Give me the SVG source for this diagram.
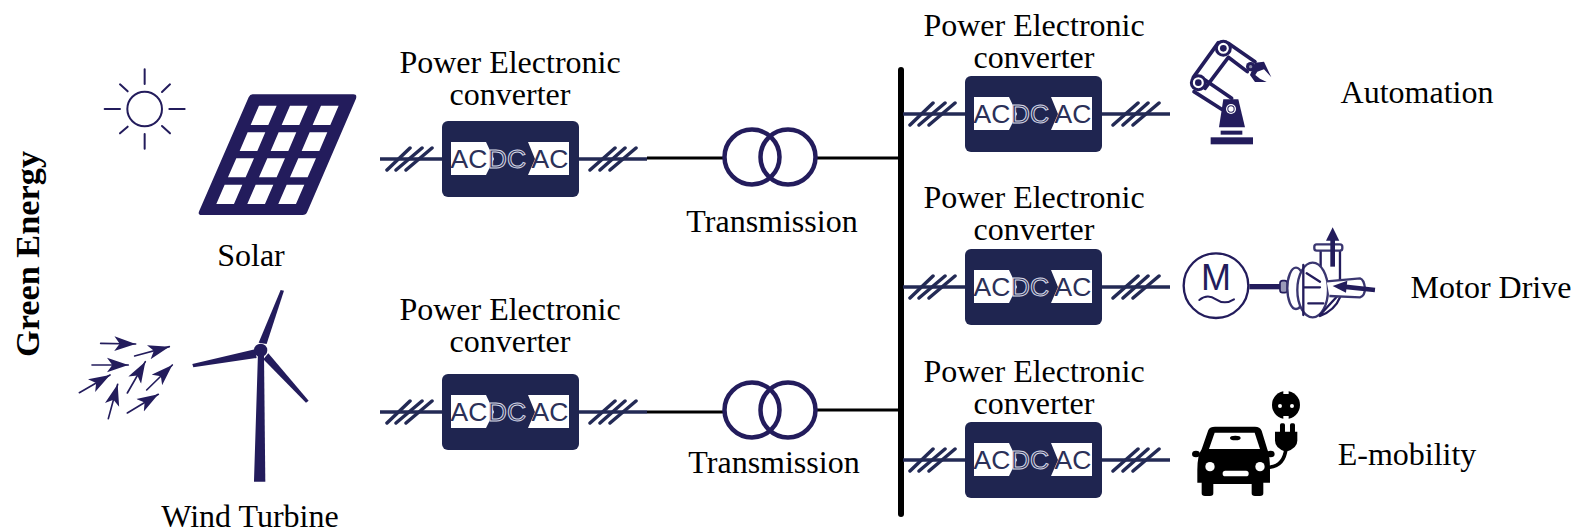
<svg xmlns="http://www.w3.org/2000/svg" width="1574" height="530" viewBox="0 0 1574 530">
<style>
.t{font-family:"Liberation Serif","Times New Roman",serif;font-size:32px;fill:#000;text-anchor:middle}
.b{font-weight:bold;font-size:34.3px}
.a{font-family:"Liberation Sans",Arial,sans-serif;font-size:26.5px;text-anchor:middle;fill:#2b3058}
.n{fill:#231c5c}
.l{stroke:#231c5c;fill:none;stroke-linecap:round}
.w{stroke:#000;fill:none}
</style>
<defs>
<marker id="ah" markerUnits="userSpaceOnUse" viewBox="0 -24 66 48" refX="64" refY="0" markerWidth="66" markerHeight="48" orient="auto"><path d="M0,-22L64,0L0,22L16,0Z" fill="#231c5c"/></marker>
<g id="conv">
<path d="M-62,38H205" stroke="#232a55" stroke-width="3.5" fill="none"/>
<path d="M-55,49L-32,27M-46,49L-20,27M-36,49L-10,27M148,49L173,27M158,49L183,27M168,49L194,27" stroke="#232a55" stroke-width="3.5" fill="none" stroke-linecap="round"/>
<rect width="137" height="76" rx="6" fill="#1f2550"/>
<rect x="9" y="21" width="118" height="33" fill="#fff"/>
<path d="M44,21H86L93,38L86,54H44L52,38Z" fill="#1f2550"/>
<text class="a" x="27" y="47">AC</text>
<text class="a" x="65" y="47" stroke="#d5d8e6" stroke-width="1" fill="#1f2550">DC</text>
<text class="a" x="108" y="47">AC</text>
</g>
<g id="tx">
<circle cx="0" cy="0" r="27.5" fill="none" stroke="#231c5c" stroke-width="4.5"/>
<circle cx="36" cy="0" r="27.5" fill="none" stroke="#231c5c" stroke-width="4.5"/>
</g>
</defs>
<g id="connectors">
<path class="w" stroke-width="3" d="M647,158H724M816,158H900M647,412H724M816,410H900"/>
<path d="M901,70V514" stroke="#000" stroke-width="6" stroke-linecap="round" fill="none"/>
</g>
<g id="sun" transform="translate(60,50) scale(.3333)">
<circle cx="254" cy="177" r="52" fill="none" stroke="#231c5c" stroke-width="6"/>
<path class="l" stroke-width="6" d="M254,58V102M254,252V296M134,177H180M328,177H374M180,103L203,124M330,103L306,126M180,250L203,230M330,250L306,228"/>
</g>
<g id="solar" transform="translate(60,50) scale(.3333)">
<path class="n" d="M578,133H880Q892,133 888,146L742,485Q738,495 728,495H425Q412,495 418,482L566,142Q570,133 578,133Z"/>
<path fill="#fff" d="M597,167h53l-25,58h-53zM690,167h53l-25,58h-53zM783,167h53l-25,58h-53zM563,247h53l-24,56h-53zM656,247h53l-24,56h-53zM749,247h53l-24,56h-53zM529,325h53l-25,57h-53zM622,325h53l-25,57h-53zM715,325h53l-25,57h-53zM494,404h53l-25,58h-53zM587,404h53l-25,58h-53zM680,404h53l-25,58h-53z"/>
</g>
<text id="label-solar" class="t" x="251" y="266">Solar</text>
<g id="wind" transform="translate(60,270) scale(.3333)">
<path class="n" d="M594,250H612L616,635H582Z"/>
<path class="n" d="M662,60L672,62L620,222L596,218Z"/>
<path class="n" d="M397,282L585,238L590,264L400,292Z"/>
<path class="n" d="M625,250L746,392L738,398L610,268Z"/>
<circle class="n" cx="602" cy="241" r="20"/>
<g class="l" stroke-width="5">
<path d="M122,220L227,222" marker-end="url(#ah)"/>
<path d="M224,258L328,230" marker-end="url(#ah)"/>
<path d="M96,285L205,285" marker-end="url(#ah)"/>
<path d="M58,368L150,315" marker-end="url(#ah)"/>
<path d="M202,369L256,275" marker-end="url(#ah)"/>
<path d="M260,360L337,285" marker-end="url(#ah)"/>
<path d="M145,446L173,343" marker-end="url(#ah)"/>
<path d="M202,429L295,373" marker-end="url(#ah)"/>
</g>
</g>
<text id="label-wind" class="t" x="250" y="527">Wind Turbine</text>
<text id="label-green" class="t b" transform="translate(39,254) rotate(-90)">Green Energy</text>
<g id="conv1"><use href="#conv" x="442" y="121"/><text class="t" x="510" y="73">Power Electronic</text><text class="t" x="510" y="105">converter</text></g>
<g id="conv2"><use href="#conv" x="442" y="374"/><text class="t" x="510" y="320">Power Electronic</text><text class="t" x="510" y="352">converter</text></g>
<g id="tx1"><use href="#tx" x="752" y="157"/><text class="t" x="772" y="232">Transmission</text></g>
<g id="tx2"><use href="#tx" x="752" y="410"/><text class="t" x="774" y="473">Transmission</text></g>
<g id="conv3"><use href="#conv" x="965" y="76"/><text class="t" x="1034" y="36">Power Electronic</text><text class="t" x="1034" y="68">converter</text></g>
<g id="conv4"><use href="#conv" x="965" y="249"/><text class="t" x="1034" y="208">Power Electronic</text><text class="t" x="1034" y="240">converter</text></g>
<g id="conv5"><use href="#conv" x="965" y="422"/><text class="t" x="1034" y="382">Power Electronic</text><text class="t" x="1034" y="414">converter</text></g>
<g id="robot" transform="translate(1160,20) scale(.3333)">
<path class="n" d="M190,238H235L255,322H177Z"/>
<rect class="n" x="182" y="332" width="65" height="12"/>
<rect class="n" x="152" y="352" width="127" height="21"/>
<circle cx="213" cy="267" r="15" fill="#fff"/><circle cx="213" cy="267" r="11" class="n"/><circle cx="213" cy="267" r="8" fill="#fff"/>
<path class="l" stroke-width="11" d="M100,172L175,68M135,205L205,112M205,70L285,125M205,112L262,155M135,180L215,235M102,215L185,268"/>
<circle cx="115" cy="188" r="21" fill="#fff" stroke="#231c5c" stroke-width="9"/><circle cx="115" cy="188" r="10" class="n"/>
<circle cx="190" cy="85" r="21" fill="#fff" stroke="#231c5c" stroke-width="9"/><circle cx="190" cy="85" r="10" class="n"/>
<circle cx="272" cy="140" r="14" class="n"/><circle cx="272" cy="140" r="5" fill="#8a8aa8"/>
<path class="n" d="M285,128L312,125L334,172L312,148L292,155L286,165L300,176L320,186L285,186L270,165Z"/>
</g>
<text id="label-automation" class="t" x="1417" y="103">Automation</text>
<g id="motor" transform="translate(1160,210) scale(.3333)">
<path d="M268,230H360" stroke="#231c5c" stroke-width="16" fill="none"/>
<circle cx="168" cy="227" r="97" fill="#fff" stroke="#231c5c" stroke-width="7"/>
<path class="l" stroke-width="6" d="M118,270Q142,250 168,268T222,268"/>
<rect x="360" y="212" width="22" height="36" rx="8" fill="#9a9ab8" stroke="#231c5c" stroke-width="5"/>
<ellipse cx="408" cy="235" rx="26" ry="62" fill="#fff" stroke="#3a3670" stroke-width="7"/>
<path d="M482,122V170M540,120V205" class="l" stroke-width="7"/>
<rect x="463" y="103" width="84" height="19" rx="7" fill="#fff" stroke="#3a3670" stroke-width="7"/>
<ellipse cx="458" cy="240" rx="46" ry="82" fill="#fff" stroke="#3a3670" stroke-width="7"/>
<path class="l" stroke-width="7" d="M430,165V315M430,232H480M440,190L480,215M445,280H490M480,315L540,250M540,205V262Q525,300 480,318"/>
<path d="M500,214L600,205Q612,208 615,235Q615,258 600,262L508,258" fill="#fff" stroke="#3a3670" stroke-width="7"/>
<path d="M518,170V88" stroke="#231c5c" stroke-width="14" fill="none"/>
<path class="n" d="M518,52L538,92H498Z"/>
<path d="M645,240L550,230" stroke="#231c5c" stroke-width="14" fill="none"/>
<path class="n" d="M518,228L562,212L558,248Z"/>
</g>
<text x="1216" y="290" style="font-family:'Liberation Sans',Arial,sans-serif;font-size:36px;text-anchor:middle;fill:#231c5c">M</text>
<text id="label-motor" class="t" x="1491" y="298">Motor Drive</text>
<g id="car" transform="translate(1160,380) scale(.3333)">
<path d="M320,262Q372,262 378,205" fill="none" stroke="#000" stroke-width="11"/>
<path d="M145,150Q150,140 165,140H285Q300,140 305,152L322,208Q330,225 330,270V308H310V340Q310,348 300,348H285Q275,348 275,340V312H160V340Q160,348 150,348H135Q125,348 125,340V308H112V270Q112,225 125,208Z"/>
<ellipse cx="108" cy="222" rx="12" ry="10"/>
<ellipse cx="332" cy="222" rx="12" ry="10"/>
<path fill="#fff" d="M164,158H284L300,207H147Z"/>
<ellipse cx="226" cy="174" rx="16" ry="7"/>
<circle cx="150" cy="260" r="14" fill="#fff"/><circle cx="300" cy="260" r="14" fill="#fff"/>
<rect x="188" y="272" width="78" height="17" rx="8" fill="#fff"/>
<path d="M345,155H412V182Q412,205 378,215Q345,205 345,182Z"/>
<rect x="360" y="130" width="15" height="30" rx="5"/><rect x="390" y="130" width="15" height="30" rx="5"/>
<circle cx="378" cy="75" r="42"/>
<rect x="370" y="30" width="16" height="12" fill="#fff"/><rect x="370" y="108" width="16" height="12" fill="#fff"/>
<circle cx="360" cy="78" r="6" fill="#fff"/><circle cx="396" cy="78" r="6" fill="#fff"/>
</g>
<text id="label-emobility" class="t" x="1407" y="465">E-mobility</text>
</svg>
